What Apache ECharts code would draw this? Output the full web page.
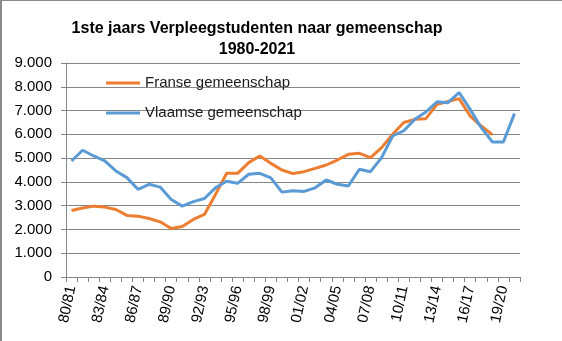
<!DOCTYPE html>
<html>
<head>
<meta charset="utf-8">
<script src="https://cdn.jsdelivr.net/npm/echarts@6/dist/echarts.min.js"></script>
<style>
html,body{margin:0;padding:0;background:#fff;}
#c{position:absolute;left:0;top:0;width:562px;height:341px;}
#frame{position:absolute;left:0;top:0;width:600px;height:400px;border-top:1px solid #8a8a8a;border-left:2px solid #8a8a8a;pointer-events:none;box-sizing:border-box;}
</style>
</head>
<body>
<div id="c"></div>
<div id="frame"></div>
<script>
const categories = ["80/81","81/82","82/83","83/84","84/85","85/86","86/87","87/88","88/89","89/90",
"90/91","91/92","92/93","93/94","94/95","95/96","96/97","97/98","98/99","99/00",
"00/01","01/02","02/03","03/04","04/05","05/06","06/07","07/08","08/09","09/10",
"10/11","11/12","12/13","13/14","14/15","15/16","16/17","17/18","18/19","19/20","20/21"];

const franse = [2800,2900,2980,2940,2840,2590,2560,2460,2320,2040,
2120,2420,2630,3470,4360,4360,4810,5090,4780,4500,
4350,4430,4570,4710,4920,5160,5200,5020,5440,6000,
6500,6630,6660,7260,7380,7500,6770,6350,5990];

const vlaamse = [4880,5330,5090,4880,4460,4180,3690,3900,3780,3260,
2980,3170,3300,3750,4030,3940,4320,4360,4170,3570,
3630,3600,3750,4080,3900,3830,4530,4430,5020,5930,
6150,6630,6940,7370,7330,7760,7050,6280,5680,5680,6870];

const seriesNames = ["Franse gemeenschap","Vlaamse gemeenschap"];
const titleLines = ["1ste jaars Verpleegstudenten naar gemeenschap","1980-2021"];
const yTicks = {min:0, max:9000, interval:1000};

function fmt(v){
  if (v === 0) return "0";
  const t = Math.floor(v/1000), r = v % 1000;
  return t + "." + String(r).padStart(3,"0");
}

const chart = echarts.init(document.getElementById('c'), null, {renderer:'canvas'});
const FONT = "Liberation Sans";
chart.setOption({
  animation:false,
  backgroundColor:'#fff',
  title:{
    text: titleLines.join('\n'),
    left: 252, top: 13, textAlign:'center',
    textStyle:{fontFamily:FONT, fontSize:16, fontWeight:'bold', color:'#000', lineHeight:21}
  },
  legend:{
    orient:'vertical', left:101, top:69,
    itemWidth:34, itemHeight:3, itemGap:12, icon:'rect',
    textStyle:{fontFamily:FONT, fontSize:15, color:'#1a1a1a', lineHeight:18},
    data: seriesNames
  },
  grid:{left:66, right:42, top:63, bottom:64},
  xAxis:{
    type:'category', data:categories, boundaryGap:true,
    axisLine:{lineStyle:{color:'#868686', width:1}},
    axisTick:{show:true, interval:0, length:5, lineStyle:{color:'#868686'}},
    axisLabel:{interval:2, rotate:78, margin:9, fontFamily:FONT, fontSize:15, color:'#000'}
  },
  yAxis:{
    type:'value', min:yTicks.min, max:yTicks.max, interval:yTicks.interval,
    axisLine:{show:true, lineStyle:{color:'#868686', width:1}},
    axisTick:{show:true, length:5, lineStyle:{color:'#868686'}},
    splitLine:{lineStyle:{color:'#868686', width:1}},
    axisLabel:{formatter:fmt, margin:14, fontFamily:FONT, fontSize:15, color:'#000'}
  },
  series:[
    {name:seriesNames[0], type:'line', data:franse, showSymbol:false, symbol:'none',
     lineStyle:{color:'#ED7D31', width:3}, itemStyle:{color:'#ED7D31'}},
    {name:seriesNames[1], type:'line', data:vlaamse, showSymbol:false, symbol:'none',
     lineStyle:{color:'#5B9BD5', width:3}, itemStyle:{color:'#5B9BD5'}}
  ]
});
</script>
</body>
</html>
